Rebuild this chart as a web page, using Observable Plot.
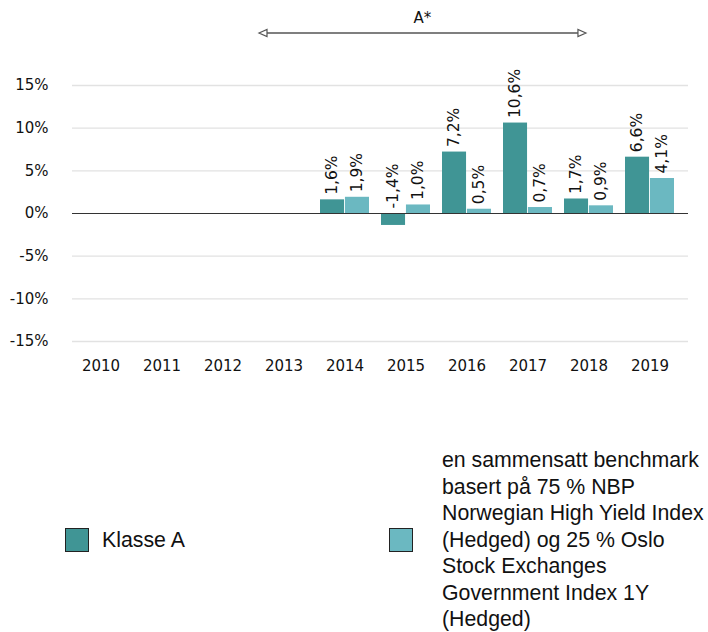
<!DOCTYPE html>
<html>
<head>
<meta charset="utf-8">
<script src="https://cdn.jsdelivr.net/npm/d3@7"></script>
<script src="https://cdn.jsdelivr.net/npm/@observablehq/plot@0.6"></script>
<style>
  html, body { margin: 0; padding: 0; background: #fff; }
  body { width: 708px; height: 632px; position: relative; overflow: hidden; }
  #chart { position: absolute; left: 0; top: 0; }
  #chart svg, #chart svg text { font-family: "DejaVu Sans", sans-serif !important; }
  .legend { position: absolute; font-family: "Liberation Sans", Arial, sans-serif; font-size: 21.3px; color: #111; line-height: 26.5px; white-space: nowrap; }
  .sw { position: absolute; width: 22px; height: 22px; border: 1px solid #222; }
</style>
</head>
<body>
<div id="chart"></div>
<div class="sw" id="sw1" style="left:65px; top:528px;"></div>
<div class="legend" id="lg1" style="left:102px; top:527px;"></div>
<div class="sw" id="sw2" style="left:389px; top:528px;"></div>
<div class="legend" id="lg2" style="left:442px; top:447px;"></div>
<script>
// ---- data ----
const years = ["2010","2011","2012","2013","2014","2015","2016","2017","2018","2019"];
const seriesNames = ["Klasse A", "en sammensatt benchmark basert på 75 % NBP Norwegian High Yield Index (Hedged) og 25 % Oslo Stock Exchanges Government Index 1Y (Hedged)"];
const legendLines2 = ["en sammensatt benchmark", "basert på 75 % NBP", "Norwegian High Yield Index", "(Hedged) og 25 % Oslo", "Stock Exchanges", "Government Index 1Y", "(Hedged)"];
const klasseA   = [null, null, null, null, 1.6, -1.4, 7.2, 10.6, 1.7, 6.6];
const benchmark = [null, null, null, null, 1.9,  1.0, 0.5,  0.7, 0.9, 4.1];
const yTicks = [-15, -10, -5, 0, 5, 10, 15];
const annotation = {label: "A*", from: "2013", to: "2018"};

// ---- styles ----
const colors = ["#409595", "#6bb8c1"];
const W = 708, H = 400, mL = 67, mR = 25, mT = 85, mB = 59;
const padInner = 0.19, padOuter = 0.095;
const step = (W - mL - mR) / (years.length - padInner + 2 * padOuter);
const bw = step * (1 - padInner);

const rows = [];
years.forEach((y, i) => {
  if (klasseA[i] != null) rows.push({year: y, s: 0, v: klasseA[i]});
  if (benchmark[i] != null) rows.push({year: y, s: 1, v: benchmark[i]});
});
const rowsA = rows.filter(d => d.s === 0);
const rowsB = rows.filter(d => d.s === 1);
const fmt = v => v.toFixed(1).replace(".", ",") + "%";

const chart = Plot.plot({
  width: W, height: H,
  marginLeft: mL, marginRight: mR, marginTop: mT, marginBottom: mB,
  style: {fontFamily: "'DejaVu Sans', sans-serif", fontSize: "15px", color: "#111", background: "#fff"},
  x: {domain: years, paddingInner: padInner, paddingOuter: padOuter, tickSize: 0, tickPadding: 19, label: null},
  y: {domain: [-15, 15], ticks: yTicks, tickFormat: d => `${d}%`, tickSize: 0, tickPadding: 19, label: null},
  marks: [
    Plot.ruleY(yTicks.filter(t => t !== 0), {stroke: "#e2e2e2", strokeWidth: 1.3, dx: 5}),
    Plot.barY(rowsA, {x: "year", y: "v", fill: colors[0], insetRight: bw / 2}),
    Plot.barY(rowsB, {x: "year", y: "v", fill: colors[1], insetLeft: bw / 2}),
    Plot.ruleY([0], {stroke: "#333", strokeWidth: 1.2, dx: 5}),
    Plot.text(rowsA, {x: "year", y: d => Math.max(d.v, 0), text: d => fmt(d.v), rotate: -90, textAnchor: "start", dx: -bw / 4, dy: -5, fill: "#111", fontSize: 15.5}),
    Plot.text(rowsB, {x: "year", y: d => Math.max(d.v, 0), text: d => fmt(d.v), rotate: -90, textAnchor: "start", dx: bw / 4, dy: -5, fill: "#111", fontSize: 15.5})
  ]
});
document.getElementById("chart").appendChild(chart);

// annotation arrow using the x scale
const xs = chart.scale("x");
const xStart = v => xs.apply ? xs.apply(v) : (xs.range[0] + padOuter * step + years.indexOf(v) * step);
const ax1 = xStart(annotation.from);
const ax2 = xStart(annotation.to) + bw / 2 - 3;
const ay = 33;
const svg = d3.select(chart.tagName.toLowerCase() === "svg" ? chart : chart.querySelector("svg"));
const g = svg.append("g");
g.append("line").attr("x1", ax1 + 7).attr("x2", ax2 - 7).attr("y1", ay).attr("y2", ay)
  .attr("stroke", "#555").attr("stroke-width", 1.6);
g.append("path").attr("d", `M${ax1},${ay}L${ax1 + 8},${ay - 3.5}L${ax1 + 8},${ay + 3.5}Z`)
  .attr("fill", "#fff").attr("stroke", "#555").attr("stroke-width", 1.2);
g.append("path").attr("d", `M${ax2},${ay}L${ax2 - 8},${ay - 3.5}L${ax2 - 8},${ay + 3.5}Z`)
  .attr("fill", "#fff").attr("stroke", "#555").attr("stroke-width", 1.2);
g.append("text").attr("x", (ax1 + ax2) / 2).attr("y", 18).attr("dy", "0.35em")
  .attr("text-anchor", "middle")
  .attr("font-size", 15).attr("fill", "#111").text(annotation.label);

// legend
document.getElementById("sw1").style.background = colors[0];
document.getElementById("sw2").style.background = colors[1];
document.getElementById("lg1").textContent = seriesNames[0];
document.getElementById("lg2").innerHTML = legendLines2.join("<br>");
</script>
</body>
</html>
